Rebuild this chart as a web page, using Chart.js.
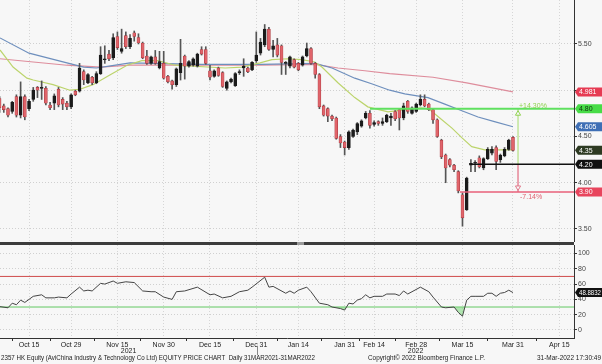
<!DOCTYPE html>
<html>
<head>
<meta charset="utf-8">
<title>2357 HK Equity price chart</title>
<script src="https://cdn.jsdelivr.net/npm/chart.js@4.4.1/dist/chart.umd.min.js"></script>
<style>
  html, body { margin:0; padding:0; }
  body { width:602px; height:364px; position:relative; overflow:hidden; background:#f7f7f7; font-family:"Liberation Sans", Arial, sans-serif; }
  canvas { position:absolute; left:0; }
  #price { top:0; }
  #rsi { top:245px; }
  #splitter { position:absolute; left:0; top:242px; width:574px; height:3px; background:#3c3c3c; }
  #grip { position:absolute; left:297px; top:242px; width:7px; height:3px; background:#9a9a9a; }
  .foot { position:absolute; top:354px; font-size:7px; line-height:8px; color:#222; white-space:nowrap; transform-origin:0 0; }
</style>
</head>
<body>
<canvas id="price" width="602" height="242"></canvas>
<div id="splitter"></div><div id="grip"></div>
<canvas id="rsi" width="602" height="111"></canvas>
<div class="foot" data-w="314" style="left:1px">2357 HK Equity (AviChina Industry &amp; Technology Co Ltd) EQUITY PRICE CHART&nbsp;&nbsp;Daily 31MAR2021-31MAR2022</div>
<div class="foot" data-w="117" style="left:368px">Copyright© 2022 Bloomberg Finance L.P.</div>
<div class="foot" data-w="64" style="left:537px">31-Mar-2022 17:30:49</div>
<script>
// ---------- axis categories (trading-day index, 0 = 15 Oct 2021) ----------
const firstDay = -7;            // first candle in view
const viewStart = -6.9;
const viewEnd = 129.5;
const tickDays   = [0, 10, 21, 32, 43, 54, 64, 75, 82, 92, 103, 115, 126];
const tickLabels = ['Oct 15','Oct 29','Nov 15','Nov 30','Dec 15','Dec 31','Jan 14','Jan 31','Feb 14','Feb 28','Mar 15','Mar 31','Apr 15'];
const minorTickDays = [-4, 5, 15.5, 26.5, 37.5, 48.5, 59, 69.5, 78.5, 87, 97.5, 109, 120.5];
const yearLabels = ['2021', '2022'];
const yearBreakDay = 54.2;
const priceTicks = [3.5, 4.0, 4.5, 5.0, 5.5];
const rsiTicks = [0, 20, 40, 60, 80, 100];

// ---------- daily OHLC ----------
const open = [4.91,4.83,4.80,4.77,4.93,4.73,4.93,
  4.80,4.90,5.03,5.02,5.02,4.84,4.86,5.01,4.90,4.86,
  4.82,4.99,4.99,5.20,5.08,5.14,5.08,5.18,5.33,5.39,
  5.35,5.58,5.42,5.59,5.47,5.62,5.57,5.51,5.37,5.29,
  5.36,5.24,5.29,5.15,5.10,5.06,5.19,5.37,5.26,5.27,
  5.26,5.44,5.44,5.21,5.15,5.24,5.19,5.02,5.09,5.05,
  5.19,5.24,5.24,5.22,5.32,5.40,5.49,5.66,5.44,5.49,
  5.48,5.29,5.26,5.33,5.29,5.27,5.37,5.45,5.29,5.17,
  4.83,4.80,4.72,4.70,4.50,4.44,4.38,4.50,4.55,4.61,
  4.70,4.75,4.63,4.66,4.64,4.66,4.70,4.77,4.79,4.70,
  4.88,4.75,4.77,4.84,4.90,4.85,4.79,4.68,4.46,4.30,
  4.25,4.19,4.12,3.87,3.71,4.19,4.21,4.27,4.16,4.26,
  4.32,4.38,4.25,4.29,4.36,4.49];
const high = [4.93,4.85,4.81,4.88,4.95,5.09,4.95,
  4.90,5.03,5.04,5.10,5.04,4.87,4.96,5.03,4.92,4.88,
  4.96,5.00,5.29,5.22,5.18,5.15,5.20,5.47,5.48,5.43,
  5.61,5.63,5.66,5.63,5.60,5.64,5.61,5.52,5.43,5.37,
  5.43,5.42,5.42,5.16,5.11,5.24,5.55,5.38,5.32,5.35,
  5.40,5.47,5.47,5.27,5.22,5.25,5.20,5.10,5.13,5.19,
  5.22,5.34,5.25,5.31,5.63,5.56,5.71,5.68,5.54,5.56,
  5.49,5.31,5.37,5.34,5.30,5.37,5.51,5.46,5.30,5.18,
  4.84,4.81,4.73,4.71,4.52,4.45,4.56,4.58,4.65,4.68,
  4.77,4.78,4.67,4.67,4.70,4.74,4.75,4.78,4.80,4.86,
  4.89,4.82,4.86,4.95,4.95,4.86,4.80,4.69,4.47,4.31,
  4.26,4.20,4.13,3.89,4.06,4.25,4.24,4.29,4.27,4.38,
  4.39,4.40,4.31,4.38,4.47,4.50];
const low = [4.76,4.76,4.71,4.75,4.71,4.70,4.68,
  4.78,4.88,4.92,4.90,4.84,4.79,4.79,4.82,4.79,4.79,
  4.80,4.94,4.98,5.06,5.07,5.06,5.07,5.17,5.29,5.32,
  5.33,5.44,5.40,5.45,5.45,5.53,5.50,5.34,5.28,5.28,
  5.28,5.23,5.12,5.08,5.01,5.04,5.11,5.12,5.25,5.26,
  5.25,5.38,5.28,5.11,5.14,5.15,5.03,5.00,5.08,5.04,
  5.17,5.15,5.19,5.21,5.30,5.38,5.47,5.43,5.36,5.36,
  5.17,5.17,5.24,5.24,5.21,5.26,5.36,5.28,5.13,4.80,
  4.72,4.66,4.67,4.47,4.38,4.30,4.36,4.49,4.52,4.60,
  4.69,4.59,4.61,4.62,4.62,4.65,4.62,4.67,4.57,4.68,
  4.75,4.74,4.76,4.83,4.82,4.78,4.64,4.49,4.26,4.00,
  4.17,4.12,3.89,3.53,3.70,4.12,4.12,4.16,4.14,4.25,
  4.30,4.14,4.22,4.28,4.35,4.34];
const close = [4.81,4.79,4.73,4.87,4.73,4.93,4.71,
  4.88,5.00,5.00,5.03,4.86,4.81,4.94,4.84,4.85,4.82,
  4.95,4.95,5.24,5.11,5.17,5.08,5.18,5.38,5.34,5.34,
  5.57,5.46,5.45,5.47,5.56,5.58,5.51,5.35,5.29,5.36,
  5.29,5.31,5.13,5.09,5.06,5.23,5.29,5.26,5.31,5.34,
  5.39,5.39,5.29,5.14,5.21,5.16,5.04,5.09,5.12,5.18,
  5.20,5.26,5.20,5.30,5.38,5.52,5.66,5.44,5.48,5.38,
  5.30,5.30,5.36,5.25,5.22,5.36,5.45,5.29,5.17,4.82,
  4.73,4.72,4.69,4.48,4.43,4.38,4.55,4.57,4.64,4.67,
  4.75,4.62,4.65,4.64,4.66,4.73,4.72,4.69,4.70,4.83,
  4.77,4.81,4.85,4.90,4.83,4.79,4.68,4.50,4.28,4.16,
  4.19,4.14,3.91,3.62,4.05,4.21,4.22,4.17,4.26,4.36,
  4.36,4.23,4.30,4.36,4.46,4.35];

// ---------- moving averages (read at selected days) ----------
const maShortDays = [-6.9,-3.8,-0.5,1,5.7,9.7,12.1,15.2,19.2,23.3,26.8,30.6,34.7,46.6,50.6,54.9,57.7,61.5,64.8,67.9,69.6,73.4,77.4,80.5,85.3,89.3,93.3,95.2,97.6,100.5,102.9,105.2,108.3,115];
const maShort = [5.435,5.25,5.13,5.11,5.06,5.00,5.01,5.06,5.165,5.27,5.32,5.32,5.27,5.24,5.25,5.295,5.33,5.34,5.33,5.305,5.25,5.08,4.92,4.82,4.765,4.79,4.81,4.79,4.70,4.59,4.485,4.39,4.355,4.355];
const maMidDays = [-6.9,0,9,13,16,19,24,41,55,68,72,77.4,81.4,85.7,89.3,94.8,98.8,102.7,106.7,110.6,115];
const maMid = [5.565,5.40,5.295,5.25,5.24,5.26,5.295,5.28,5.28,5.29,5.24,5.13,5.07,5.00,4.96,4.92,4.85,4.78,4.71,4.66,4.605];
const maLongDays = [-6.9,1,9,17,24,41,55,68,73.4,79.8,85.7,96,104,115];
const maLong = [5.34,5.305,5.27,5.25,5.27,5.27,5.27,5.28,5.24,5.21,5.18,5.14,5.08,4.981];

// ---------- drawn levels ----------
const resistance = 4.80, resistanceFrom = 81;
const baseLevel = 4.20, baseFrom = 105;
const support = 3.90, supportFrom = 102.4;
const arrowDay = 116.2;
const upLabel = '+14.30%', downLabel = '-7.14%';

// ---------- RSI ----------
const rsiDays = [-6.9,-5,-4,-3,-2,-1,1,3,4,6,7,9,10,12,13,14,15,17,18,20,21,23,25,27,29,30,32,34,35,37,40,43,44,46,48,50,52,53,56,57,58,61,62,63,64,66,67,69,71,72,74,75,76,77,78,79,80,81,82,84,85,87,88,89,90,93,95,96,98,99,101,102,103,104,105,106,108,109,110,111,112,113,114,115];
const rsi = [30.5,29,35,33,39,36,44,46,42,42,43,42,47,56,51,52,51,61,60,64,61,63,62,51,50,50,43,40,50,51,56,46,47,42,44,50,52,56,69,56,57,48,51,48,52,56,50,35,33,30,28,26,35,34,39,41,46,42,44,44,47,47,45,51,47,56,50,43,30,29,30,23,18,39,44,44,44,48,48,44,48,49,52,48.8832];
const rsiOverbought = 70, rsiOversold = 30;

// ---------- value tags on the right ----------
const priceTagValues = [maLong[maLong.length-1], resistance, maMid[maMid.length-1], close[close.length-1], baseLevel, support];
const priceTagTexts  = ['4.981', '4.80', '4.605', '4.35', '4.20', '3.90'];
const priceTagFill   = ['#e63b53', '#47dc47', '#3f6fb5', '#2d3a22', '#111111', '#e8455d'];
const priceTagInk    = ['#ffffff', '#10320f', '#ffffff', '#ffffff', '#ffffff', '#ffffff'];
const rsiTagText = '48.8832';

// ---------- styling ----------
const FONT = '"Liberation Sans", Arial, sans-serif';
Chart.defaults.font.family = FONT;
Chart.defaults.font.size = 7;
Chart.defaults.color = '#333';
Chart.defaults.animation = false;

const up = i => close[i] >= open[i];
const candleDays = open.map((_, i) => firstDay + i);
const pts = (xs, ys) => xs.map((x, i) => ({x, y: ys[i]}));
const flat = (from, v) => [{x: from, y: v}, {x: viewEnd, y: v}];

function drawTag(ctx, x0, y, text, fill, ink) {
  const h = 9, right = 602;
  ctx.save();
  ctx.fillStyle = fill;
  ctx.beginPath();
  ctx.moveTo(x0, y);
  ctx.lineTo(x0 + 3, y - h / 2);
  ctx.lineTo(right, y - h / 2);
  ctx.lineTo(right, y + h / 2);
  ctx.lineTo(x0 + 3, y + h / 2);
  ctx.closePath();
  ctx.fill();
  ctx.fillStyle = ink;
  ctx.font = '7px ' + FONT;
  ctx.textBaseline = 'middle';
  ctx.textAlign = 'left';
  ctx.fillText(text, x0 + 4, y + 0.5, right - (x0 + 4) - 1);
  ctx.restore();
}

const priceDecor = {
  id: 'priceDecor',
  afterDatasetsDraw(chart) {
    const ctx = chart.ctx, xs = chart.scales.x, ys = chart.scales.y;
    const ax = xs.getPixelForValue(arrowDay);
    const yR = ys.getPixelForValue(resistance), yS = ys.getPixelForValue(support);
    ctx.save();
    ctx.lineWidth = 1;
    ctx.fillStyle = '#f7f7f7';
    ctx.strokeStyle = '#8fd14f';
    ctx.beginPath(); ctx.moveTo(ax, yR + 2); ctx.lineTo(ax - 2.6, yR + 6.5); ctx.lineTo(ax + 2.6, yR + 6.5); ctx.closePath(); ctx.fill(); ctx.stroke();
    ctx.strokeStyle = '#e07a8c';
    ctx.beginPath(); ctx.moveTo(ax, yS - 1.5); ctx.lineTo(ax - 2.6, yS - 6); ctx.lineTo(ax + 2.6, yS - 6); ctx.closePath(); ctx.fill(); ctx.stroke();
    ctx.font = '7px ' + FONT;
    ctx.textBaseline = 'middle';
    ctx.fillStyle = '#8fd14f';
    ctx.fillText(upLabel, ax + 1, yR - 3);
    ctx.fillStyle = '#e06070';
    ctx.fillText(downLabel, ax + 2, yS + 5.5);
    ctx.restore();
  },
  afterDraw(chart) {
    const ctx = chart.ctx, ys = chart.scales.y, x0 = chart.chartArea.right + 1;
    priceTagValues.forEach((v, i) => drawTag(ctx, x0, ys.getPixelForValue(v), priceTagTexts[i], priceTagFill[i], priceTagInk[i]));
  }
};

const rsiDecor = {
  id: 'rsiDecor',
  afterDraw(chart) {
    const ctx = chart.ctx, xs = chart.scales.x, ys = chart.scales.y, a = chart.chartArea;
    drawTag(ctx, a.right + 1, ys.getPixelForValue(rsi[rsi.length - 1]), rsiTagText, '#111111', '#ffffff');
    const xb = xs.getPixelForValue(yearBreakDay);
    ctx.save();
    ctx.strokeStyle = '#888';
    ctx.lineWidth = 1;
    ctx.beginPath(); ctx.moveTo(Math.round(xb) + 0.5, a.bottom + 8); ctx.lineTo(Math.round(xb) + 0.5, a.bottom + 17); ctx.stroke();
    ctx.fillStyle = '#222';
    ctx.font = '7px ' + FONT;
    ctx.textAlign = 'center';
    ctx.textBaseline = 'middle';
    ctx.fillText(yearLabels[0], (a.left + xb) / 2, a.bottom + 13.5);
    ctx.fillText(yearLabels[1], (xb + a.right) / 2, a.bottom + 13.5);
    ctx.restore();
  }
};

const xBase = (forLabels) => ({
  type: 'linear', min: viewStart, max: viewEnd, offset: false,
  afterBuildTicks: s => {
    const t = tickDays.map(v => ({value: v}));
    if (forLabels) minorTickDays.forEach(v => t.push({value: v, minor: true}));
    s.ticks = t.sort((a, b) => a.value - b.value);
  },
  ticks: {
    display: forLabels, autoSkip: false, maxRotation: 0, minRotation: 0, padding: 0, color: '#222',
    callback: v => { const k = tickDays.indexOf(v); return k >= 0 ? tickLabels[k] : ''; }
  },
  grid: {
    offset: false, drawTicks: forLabels, tickLength: 3,
    color: c => (c.tick && c.tick.minor) ? 'rgba(0,0,0,0)' : '#d6d6d6',
    tickColor: c => (c.tick && c.tick.minor) ? '#333' : 'rgba(0,0,0,0)'
  },
  border: { display: forLabels, color: '#333', width: 1, dash: [1, 2] },
  afterFit: s => { s.height = forLabels ? 18 : 0; s.paddingLeft = 0; s.paddingRight = 0; }
});

const yRight = (min, max, ticks, fmt) => ({
  type: 'linear', position: 'right', min, max,
  afterBuildTicks: s => { s.ticks = ticks.map(v => ({value: v})); },
  ticks: { color: '#444', padding: 1, callback: fmt },
  grid: { color: '#d0d0d0', tickLength: 3, tickColor: '#333' },
  border: { display: true, color: '#333', width: 1, dash: [1, 2] },
  afterFit: s => { s.width = 28; s.paddingTop = 0; s.paddingBottom = 0; }
});

new Chart(document.getElementById('price'), {
  type: 'bar',
  data: {
    datasets: [
      { type: 'line', data: flat(resistanceFrom, resistance), borderColor: '#5fe05f', borderWidth: 2, pointRadius: 0, order: -3 },
      { type: 'line', data: flat(baseFrom, baseLevel), borderColor: '#111', borderWidth: 1.5, pointRadius: 0, order: -3 },
      { type: 'line', data: flat(supportFrom, support), borderColor: '#e8607a', borderWidth: 1.5, pointRadius: 0, order: -3 },
      { type: 'line', data: [{x: arrowDay, y: baseLevel}, {x: arrowDay, y: resistance}], borderColor: '#a6dc6a', borderWidth: 1, pointRadius: 0, order: -2 },
      { type: 'line', data: [{x: arrowDay, y: baseLevel}, {x: arrowDay, y: support}], borderColor: '#e898a6', borderWidth: 1, pointRadius: 0, order: -2 },
      { type: 'bar', data: candleDays.map((x, i) => ({x, y: [open[i], close[i]]})), barThickness: 3, grouped: false, borderSkipped: false,
        backgroundColor: c => up(c.dataIndex) ? '#1b1b1b' : '#e0646a',
        borderColor: c => up(c.dataIndex) ? '#1b1b1b' : '#a9383f', borderWidth: 0.6, order: 0 },
      { type: 'bar', data: candleDays.map((x, i) => ({x, y: [low[i], high[i]]})), barThickness: 1, grouped: false,
        backgroundColor: '#555', order: 1 },
      { type: 'line', data: pts(maShortDays, maShort), borderColor: '#bcd46c', borderWidth: 1.2, pointRadius: 0, order: 2 },
      { type: 'line', data: pts(maMidDays, maMid), borderColor: '#6e8fbd', borderWidth: 1.2, pointRadius: 0, order: 2 },
      { type: 'line', data: pts(maLongDays, maLong), borderColor: '#de8d9c', borderWidth: 1.2, pointRadius: 0, order: 2 }
    ]
  },
  options: {
    responsive: false, animation: false,
    layout: { padding: { left: 0, right: 0, top: 0, bottom: 1 } },
    plugins: { legend: { display: false }, tooltip: { enabled: false } },
    scales: {
      x: xBase(false),
      y: yRight(3.37, 5.975, priceTicks, v => v === 5 ? '' : v.toFixed(2))
    }
  },
  plugins: [priceDecor]
});

new Chart(document.getElementById('rsi'), {
  type: 'line',
  data: {
    datasets: [
      { data: pts(rsiDays, rsi), borderColor: '#444', borderWidth: 1, pointRadius: 0, order: 0,
        fill: { target: { value: rsiOversold }, above: 'rgba(0,0,0,0)', below: 'rgba(120,215,120,0.55)' } },
      { data: flat(viewStart, rsiOverbought), borderColor: '#cf4a4a', borderWidth: 1, pointRadius: 0, order: 1 },
      { data: flat(viewStart, rsiOversold), borderColor: '#62c862', borderWidth: 1, pointRadius: 0, order: 1 }
    ]
  },
  options: {
    responsive: false, animation: false,
    layout: { padding: 0 },
    plugins: { legend: { display: false }, tooltip: { enabled: false } },
    scales: {
      x: xBase(true),
      y: yRight(-10.5, 111.1, rsiTicks, v => String(v))
    }
  },
  plugins: [rsiDecor]
});

document.querySelectorAll('.foot').forEach(el => {
  const w = el.getBoundingClientRect().width;
  if (w > 0) el.style.transform = 'scaleX(' + (Number(el.dataset.w) / w) + ')';
});
</script>
</body>
</html>
